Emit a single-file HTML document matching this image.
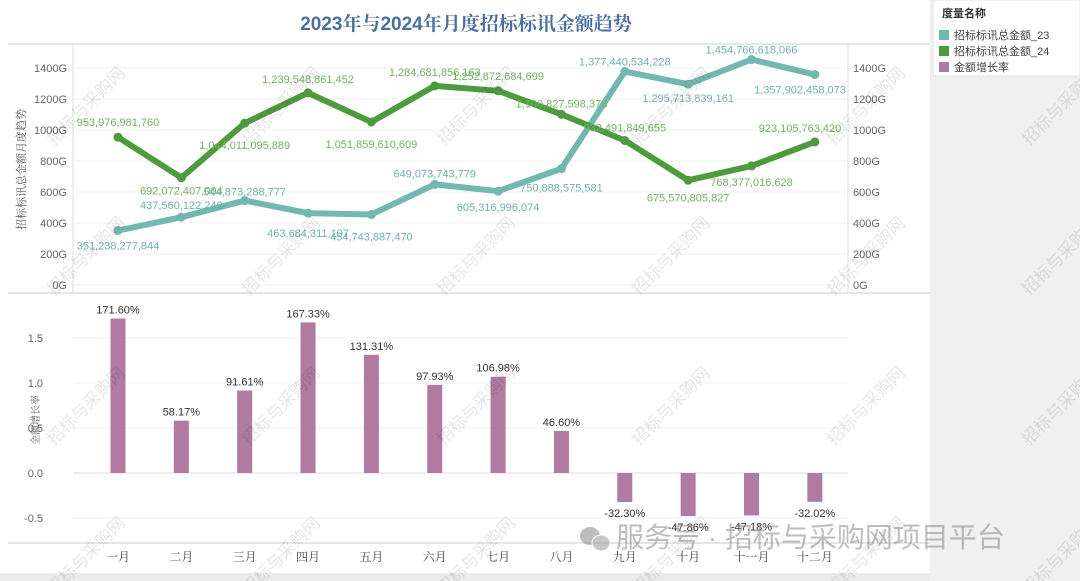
<!DOCTYPE html>
<html><head><meta charset="utf-8"><style>
body{margin:0;width:1080px;height:581px;overflow:hidden;background:#ebebeb;font-family:"Liberation Sans","Noto Sans CJK SC",sans-serif}
svg{position:absolute;left:0;top:0}
</style></head><body>
<svg id="c" width="1080" height="581" xmlns="http://www.w3.org/2000/svg">
<rect x="0" y="0" width="930" height="573" fill="#fff"/>
<rect x="930" y="0" width="150" height="581" fill="#f0f0f0"/>
<rect x="933" y="0" width="147" height="76" fill="#fff" stroke="#e3e3e3"/>
<text x="942" y="17" font-size="11" fill="#333" font-weight="bold">度量名称</text>
<g><rect x="939" y="30" width="10" height="10" fill="#72b8b0"/><text x="954" y="39" font-size="11" fill="#444">招标标讯总金额_23</text></g>
<g><rect x="939" y="46" width="10" height="10" fill="#4e9a3e"/><text x="954" y="55" font-size="11" fill="#444">招标标讯总金额_24</text></g>
<g><rect x="939" y="62" width="10" height="10" fill="#b07aa1"/><text x="954" y="71" font-size="11" fill="#444">金额增长率</text></g>
<text x="466" y="30" font-size="19" fill="#4a6e9e" text-anchor="middle" font-family="Liberation Sans,Noto Serif CJK SC,serif" font-weight="bold">2023年与2024年月度招标标讯金额趋势</text>
<line x1="8" y1="44" x2="930" y2="44" stroke="#ccc"/>
<line x1="8" y1="293" x2="930" y2="293" stroke="#ccc"/>
<line x1="8" y1="543" x2="930" y2="543" stroke="#ccc"/>
<line x1="73" y1="44" x2="73" y2="293" stroke="#ddd"/>
<line x1="848" y1="44" x2="848" y2="293" stroke="#ddd"/>
<g id="grid"></g><g id="marks"></g><g id="labels"></g><g id="wm"></g>
<text transform="translate(25,230) rotate(-90)" font-size="11" fill="#555" font-family="Noto Serif CJK SC,serif">招标标讯总金额月度趋势</text>
<text transform="translate(39,445) rotate(-90)" font-size="10" fill="#666" font-family="Noto Serif CJK SC,serif">金额增长率</text>
<g opacity="0.55">
<ellipse cx="590" cy="536" rx="10" ry="9" fill="#888"/><ellipse cx="601" cy="543" rx="9" ry="8" fill="#999" stroke="#fff"/>
<text x="616" y="547" font-size="28" fill="#888">服务号 · 招标与采购网项目平台</text></g>
</svg>
<script>
const months=['一月','二月','三月','四月','五月','六月','七月','八月','九月','十月','十一月','十二月'];
const s23=[351.238,437.560,544.873,463.684,454.744,649.074,605.317,750.889,1377.441,1295.714,1454.767,1357.902];
const s24=[953.977,692.072,1044.011,1239.549,1051.860,1284.682,1252.873,1100.828,932.492,675.571,768.377,923.106];
const l23=['351,238,277,844','437,560,122,240','544,873,288,777','463,684,311,107','454,743,887,470','649,073,743,779','605,316,996,074','750,888,575,581','1,377,440,534,228','1,295,713,839,161','1,454,766,618,066','1,357,902,458,073'];
const l24=['953,976,981,760','692,072,407,004','1,044,011,095,889','1,239,548,861,452','1,051,859,610,609','1,284,681,856,163','1,252,872,684,699','1,100,827,598,373','932,491,849,655','675,570,805,827','768,377,016,628','923,105,763,420'];
const growth=[1.716,0.5817,0.9161,1.6733,1.3131,0.9793,1.0698,0.466,-0.323,-0.4786,-0.4718,-0.3202];
const gLabels=['171.60%','58.17%','91.61%','167.33%','131.31%','97.93%','106.98%','46.60%','-32.30%','-47.86%','-47.18%','-32.02%'];
const amtTicks=[0,200,400,600,800,1000,1200,1400];
const gTicks=[-0.5,0,0.5,1.0,1.5];
const off23=[15,-12,-9,20,22,-11,16,19,-10,14,-10,15];
const off24=[-15,13,22,-14,22,-14,-15,-11,-13,17,16,-14];
const NS='http://www.w3.org/2000/svg';
const X=i=>118+i*63.35, YA=v=>285-v*0.155, YG=v=>473-v*90;
function mk(t,a,p,txt){const e=document.createElementNS(NS,t);for(const k in a)e.setAttribute(k,a[k]);if(txt!=null)e.textContent=txt;document.getElementById(p).appendChild(e);return e;}
amtTicks.forEach(v=>{const y=YA(v);
 const l=mk('line',{x1:73,x2:848,y1:y,y2:y,stroke:'#f0f0f0'},'grid');
 
 
 const a=mk('text',{x:67,y:y+4,'font-size':11,fill:'#666','text-anchor':'end'},'grid',v+'G');
 
 
 const b=mk('text',{x:853,y:y+4,'font-size':11,fill:'#666'},'grid',v+'G');
 
 });
gTicks.forEach(v=>{const y=YG(v);
 const l=mk('line',{x1:73,x2:848,y1:y,y2:y,stroke:v===0?'#ddd':'#f2f2f2'},'grid');
 
 
 const a=mk('text',{x:43,y:y+4,'font-size':11,fill:'#666','text-anchor':'end'},'grid',v.toFixed(1));
 
 });
months.forEach((m,i)=>{const t=mk('text',{x:X(i),y:561,'font-size':12,fill:'#444','text-anchor':'middle','font-family':'Noto Serif CJK SC,serif'},'grid',m);
 
 });
growth.forEach((v,i)=>{const y0=YG(0),y=YG(v);
 const r=mk('rect',{x:X(i)-7.5,y:Math.min(y,y0),width:15,height:Math.abs(y-y0),fill:'#b07aa1'},'marks');
 
 
 const t=mk('text',{x:X(i),y:v>=0?y-5:y+15,'font-size':11,fill:'#333','text-anchor':'middle'},'labels',gLabels[i]);
 
 });
[[s23,'#72b8b0','line-23',l23,off23,'#6db3ad'],[s24,'#4e9a3e','line-24',l24,off24,'#6fb35f']].forEach(([s,c,n,lb,off,lc])=>{
 const p=mk('polyline',{points:s.map((v,i)=>X(i)+','+YA(v)).join(' '),fill:'none',stroke:c,'stroke-width':6,'stroke-linejoin':'round','stroke-linecap':'round'},'marks');
 
 
 s.forEach((v,i)=>{const d=mk('circle',{cx:X(i),cy:YA(v),r:4.5,fill:c},'marks');
  
  
  const t=mk('text',{x:Math.min(X(i),800),y:YA(v)+off[i]+4,'font-size':11,fill:lc,'text-anchor':'middle'},'labels',lb[i]);
  
  });});
for(let r=0;r<4;r++)for(let c=0;c<6;c++){const x=90+c*195,y=110+r*150;
 const t=mk('text',{x:x,y:y,'font-size':17,fill:'#000','fill-opacity':0.1,transform:`rotate(-45 ${x} ${y})`,'text-anchor':'middle'},'wm','招标与采购网');
 
 }
</script>
</body></html>
